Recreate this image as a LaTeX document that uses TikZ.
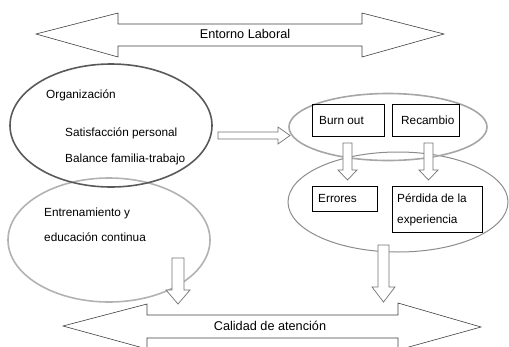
\documentclass[tikz,border=0pt]{standalone}
\usepackage{fontspec}
\setmainfont{Liberation Sans}
\usetikzlibrary{shapes.geometric}
\begin{document}
\begin{tikzpicture}[x=1pt,y=-1pt,
  bigarrow/.style={draw=black!75, line width=0.6pt, fill=white},
  blockarrow/.style={draw=black!55, line width=0.7pt, fill=white},
  box/.style={draw=black, line width=0.6pt},
  txt/.style={font=\fontsize{11.8}{13}\selectfont, inner sep=0pt},
  bigtxt/.style={font=\fontsize{12.7}{14}\selectfont, inner sep=0pt},
  oval/.style={ellipse, inner sep=0pt}]
\useasboundingbox (0,0) rectangle (509,346);
\clip (0,0) rectangle (509,346);
% top double arrow
\draw[bigarrow] (36,34) -- (118,13) -- (118,24) -- (362,24) -- (362,13) -- (444,34)
  -- (362,57) -- (362,46) -- (118,46) -- (118,57) -- cycle;
\node[bigtxt] (entorno) at (245,34) {Entorno Laboral};
% bottom double arrow
\draw[bigarrow] (63,326) -- (147,304) -- (147,315) -- (398,315) -- (398,303) -- (481,327)
  -- (398,350) -- (398,338) -- (147,338) -- (147,349) -- cycle;
\node[bigtxt] (calidad) at (270,326) {Calidad de atención};
% ellipses
\node[oval, draw=black!30, line width=1.6pt, minimum width=202pt, minimum height=124pt] (entr) at (109,240) {};
\node[oval, draw=black!65, line width=1.6pt, minimum width=202pt, minimum height=123pt] (org) at (111,125.5) {};
\node[oval, draw=black!45, line width=1pt, minimum width=220pt, minimum height=100pt] (res) at (398,202) {};
\node[oval, draw=black!35, line width=1.6pt, minimum width=198pt, minimum height=67pt] (cau) at (388,127) {};
% texts
\node[txt, anchor=west] (orgt) at (46,95) {Organización};
\node[txt, anchor=west] (sat) at (65,133) {Satisfacción personal};
\node[txt, anchor=west] (bal) at (65,159) {Balance familia-trabajo};
\node[txt, anchor=west] (ent1) at (44,213) {Entrenamiento y};
\node[txt, anchor=west] (ent2) at (44,237) {educación continua};
% boxes
\draw[box] (312,104) rectangle (384,136);
\node[txt, anchor=west] (burn) at (319,120) {Burn out};
\draw[box] (392,104) rectangle (459,136);
\node[txt, anchor=west] (rec) at (401,120) {Recambio};
\draw[box] (312,186) rectangle (377,211);
\node[txt, anchor=west] (err) at (318,198) {Errores};
\draw[box] (392,186) rectangle (482,232);
\node[txt, anchor=west] (perd1) at (397,198) {Pérdida de la};
\node[txt, anchor=west] (perd2) at (397,220) {experiencia};
% block arrows
\draw[blockarrow] (218,132) -- (278,132) -- (278,127) -- (290,135.5) -- (278,144) -- (278,139) -- (218,139) -- cycle;
\draw[blockarrow] (343,143) -- (352,143) -- (352,170) -- (357,170) -- (347.5,180) -- (338,170) -- (343,170) -- cycle;
\draw[blockarrow] (424,143) -- (433,143) -- (433,170) -- (438,170) -- (428.5,180) -- (419,170) -- (424,170) -- cycle;
\draw[blockarrow] (378,245) -- (389,245) -- (389,287) -- (395,287) -- (383.5,302) -- (372,287) -- (378,287) -- cycle;
\draw[blockarrow] (172,258) -- (184,258) -- (184,290) -- (190,290) -- (178,304) -- (166,290) -- (172,290) -- cycle;
\end{tikzpicture}
\end{document}
